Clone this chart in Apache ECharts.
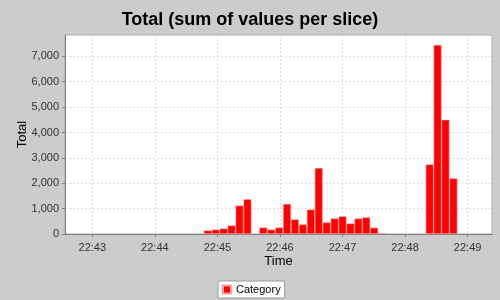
<!DOCTYPE html>
<html><head><meta charset="utf-8">
<script src="https://cdn.jsdelivr.net/npm/echarts@6/dist/echarts.min.js"></script>
<style>html,body{margin:0;padding:0;background:#cccccc;} #c{width:500px;height:300px;}</style>
</head><body><div id="c"></div>
<script>
const titleText = 'Total (sum of values per slice)';
const seriesName = 'Category';
const xAxisName = 'Time';
const yAxisName = 'Total';
const tickLabels = ['22:43', '22:44', '22:45', '22:46', '22:47', '22:48', '22:49'];
// slice centres, seconds after 22:43:00
const sliceSeconds = [110.8, 118.4, 126.0, 133.6, 141.2, 148.8,
  164.0, 171.6, 179.2, 186.8, 194.4, 202.0, 209.6, 217.2, 224.8, 232.4,
  240.0, 247.6, 255.2, 262.8, 270.4, 278.0,
  323.6, 331.2, 338.8, 346.4];
const sliceTotals = [140, 175, 215, 335, 1120, 1370,
  255, 175, 255, 1185, 575, 375, 965, 2600, 455, 610,
  695, 415, 610, 655, 250, 35,
  2740, 7450, 4500, 2190];

const FONT = 'Liberation Sans';
const toSec = s => { const p = s.split(':'); return (+p[0]) * 3600 + (+p[1]) * 60; };
const base = toSec(tickLabels[0]);
const tickValues = tickLabels.map(toSec);
const labelOf = {};
tickLabels.forEach((l, i) => labelOf[tickValues[i]] = l);
const xMin = base - 26.2, xMax = base + 383.4;
const data = sliceSeconds.map((s, i) => [base + s, sliceTotals[i]]);

const chart = echarts.init(document.getElementById('c'), null, {renderer: 'canvas'});
chart.setOption({
  backgroundColor: '#cccccc',
  animation: false,
  title: {
    text: titleText, left: 'center', top: 6,
    textStyle: {fontFamily: FONT, fontWeight: 'bold', fontSize: 18, color: '#000'}
  },
  legend: {
    data: [{name: seriesName, icon: 'rect'}],
    left: 218, bottom: 2,
    backgroundColor: '#ffffff', borderColor: '#999999', borderWidth: 1,
    padding: [3, 4, 3, 4], itemWidth: 8, itemHeight: 8, itemGap: 4,
    textStyle: {fontFamily: FONT, fontSize: 11, color: '#000', padding: [0, 0, 0, 0]}
  },
  grid: {
    left: 65, right: 8, top: 35, bottom: 66, containLabel: false,
    show: true, backgroundColor: '#ffffff', borderColor: '#aaaaaa', borderWidth: 1
  },
  xAxis: {
    type: 'value', min: xMin, max: xMax,
    name: xAxisName, nameLocation: 'middle', nameGap: 21, nameMoveOverlap: false,
    nameTextStyle: {fontFamily: FONT, fontSize: 13, color: '#000'},
    axisLine: {show: true, lineStyle: {color: '#808080'}},
    axisTick: {show: true, length: 3, customValues: tickValues, lineStyle: {color: '#808080'}},
    axisLabel: {customValues: tickValues, margin: 8, fontFamily: FONT, fontSize: 11, color: '#333',
      formatter: v => labelOf[Math.round(v)] || ''},
    splitLine: {show: true, lineStyle: {color: '#dcdcdc', type: [2, 2], width: 1}}
  },
  yAxis: {
    type: 'value', min: 0, max: 7840, interval: 1000,
    name: yAxisName, nameLocation: 'middle', nameGap: 36, nameRotate: 90, nameMoveOverlap: false,
    nameTextStyle: {fontFamily: FONT, fontSize: 13, color: '#000'},
    axisLine: {show: true, lineStyle: {color: '#808080'}},
    axisTick: {show: true, length: 3, lineStyle: {color: '#808080'}},
    axisLabel: {showMaxLabel: false, margin: 6, fontFamily: FONT, fontSize: 11, color: '#333'},
    splitLine: {show: true, lineStyle: {color: '#dcdcdc', type: [2, 2], width: 1}}
  },
  series: [{
    name: seriesName, type: 'bar', data: data, barWidth: 7.9,
    itemStyle: {color: '#ff0000', borderColor: '#ff9c9c', borderWidth: 0.6}
  }]
});
</script></body></html>
